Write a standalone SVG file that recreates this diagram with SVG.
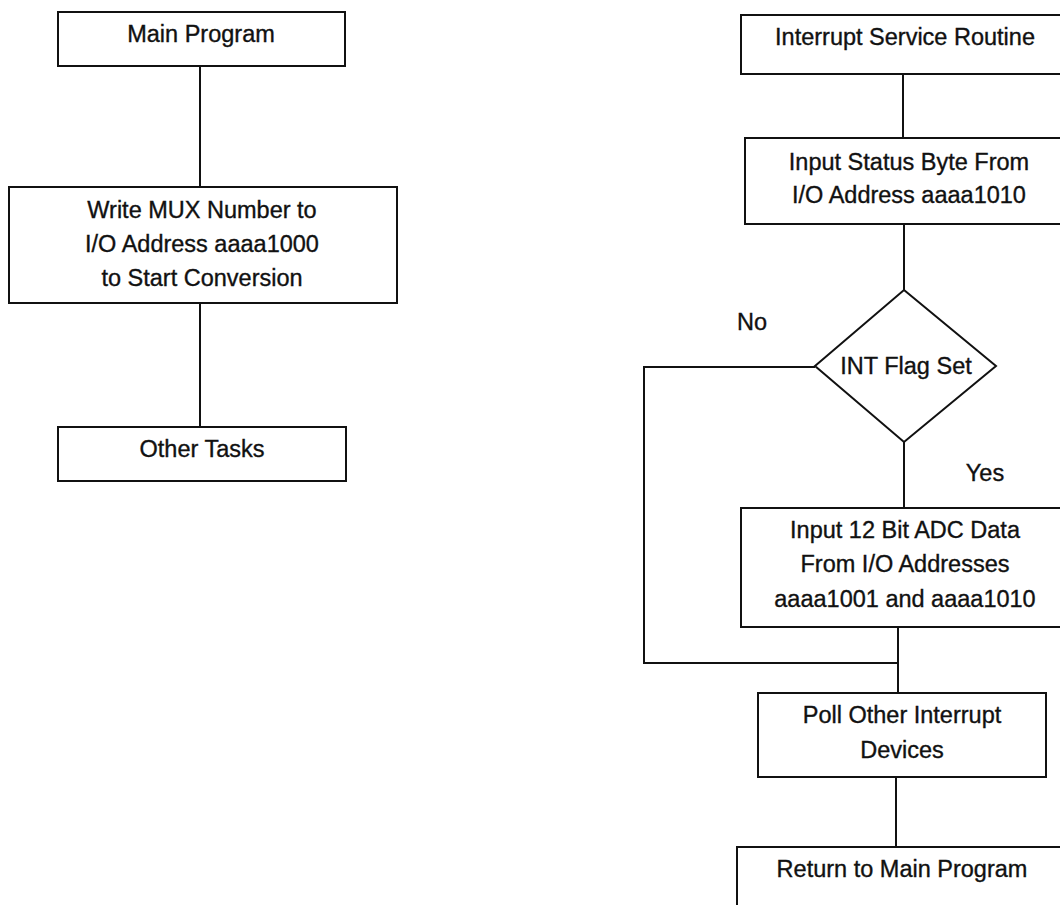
<svg xmlns="http://www.w3.org/2000/svg" width="1060" height="905" viewBox="0 0 1060 905">
  <style>
    .box { fill: #fff; stroke: #111; stroke-width: 2; }
    .wire { fill: none; stroke: #111; stroke-width: 2; }
    text { font-family: "Liberation Sans", Arial, Helvetica, sans-serif; font-size: 23.5px; fill: #111; stroke: #111; stroke-width: 0.35; }
    .c { text-anchor: middle; }
  </style>
  <rect width="1060" height="905" fill="#fff"/>

  <!-- connectors -->
  <g id="connectors">
    <path class="wire" d="M200 66 V187"/>
    <path class="wire" d="M200 303 V427"/>
    <path class="wire" d="M903 74 V138"/>
    <path class="wire" d="M904 224 V290"/>
    <path class="wire" d="M904 442 V508"/>
    <path class="wire" d="M815 367 H644 V663 H898"/>
    <path class="wire" d="M898 627 V693"/>
    <path class="wire" d="M896 777 V847"/>
    <text x="752" y="330" class="c">No</text>
    <text x="985" y="481" class="c">Yes</text>
  </g>

  <!-- main program column -->
  <g id="main-program">
    <rect class="box" x="58" y="12" width="287" height="54"/>
    <text x="201" y="42" class="c">Main Program</text>
  </g>
  <g id="start-conversion">
    <rect class="box" x="9" y="187" width="388" height="116"/>
    <text x="202" y="218" class="c">Write MUX Number to</text>
    <text x="202" y="252" class="c">I/O Address aaaa1000</text>
    <text x="202" y="286" class="c">to Start Conversion</text>
  </g>
  <g id="other-tasks">
    <rect class="box" x="58" y="427" width="288" height="54"/>
    <text x="202" y="457" class="c">Other Tasks</text>
  </g>

  <!-- interrupt service routine column -->
  <g id="isr">
    <rect class="box" x="741" y="15" width="326" height="59"/>
    <text x="905" y="45" class="c">Interrupt Service Routine</text>
  </g>
  <g id="input-status">
    <rect class="box" x="745" y="138" width="326" height="86"/>
    <text x="909" y="170" class="c">Input Status Byte From</text>
    <text x="909" y="203" class="c">I/O Address aaaa1010</text>
  </g>
  <g id="int-flag">
    <polygon class="box" points="904,290 996,366 904,442 815,366"/>
    <text x="906" y="374" class="c">INT Flag Set</text>
  </g>
  <g id="input-adc">
    <rect class="box" x="741" y="508" width="328" height="119"/>
    <text x="905" y="538" class="c">Input 12 Bit ADC Data</text>
    <text x="905" y="572" class="c">From I/O Addresses</text>
    <text x="905" y="607" class="c">aaaa1001 and aaaa1010</text>
  </g>
  <g id="poll-devices">
    <rect class="box" x="758" y="693" width="288" height="84"/>
    <text x="902" y="723" class="c">Poll Other Interrupt</text>
    <text x="902" y="758" class="c">Devices</text>
  </g>
  <g id="return-main">
    <rect class="box" x="737" y="847" width="330" height="80"/>
    <text x="902" y="877" class="c">Return to Main Program</text>
  </g>
</svg>
